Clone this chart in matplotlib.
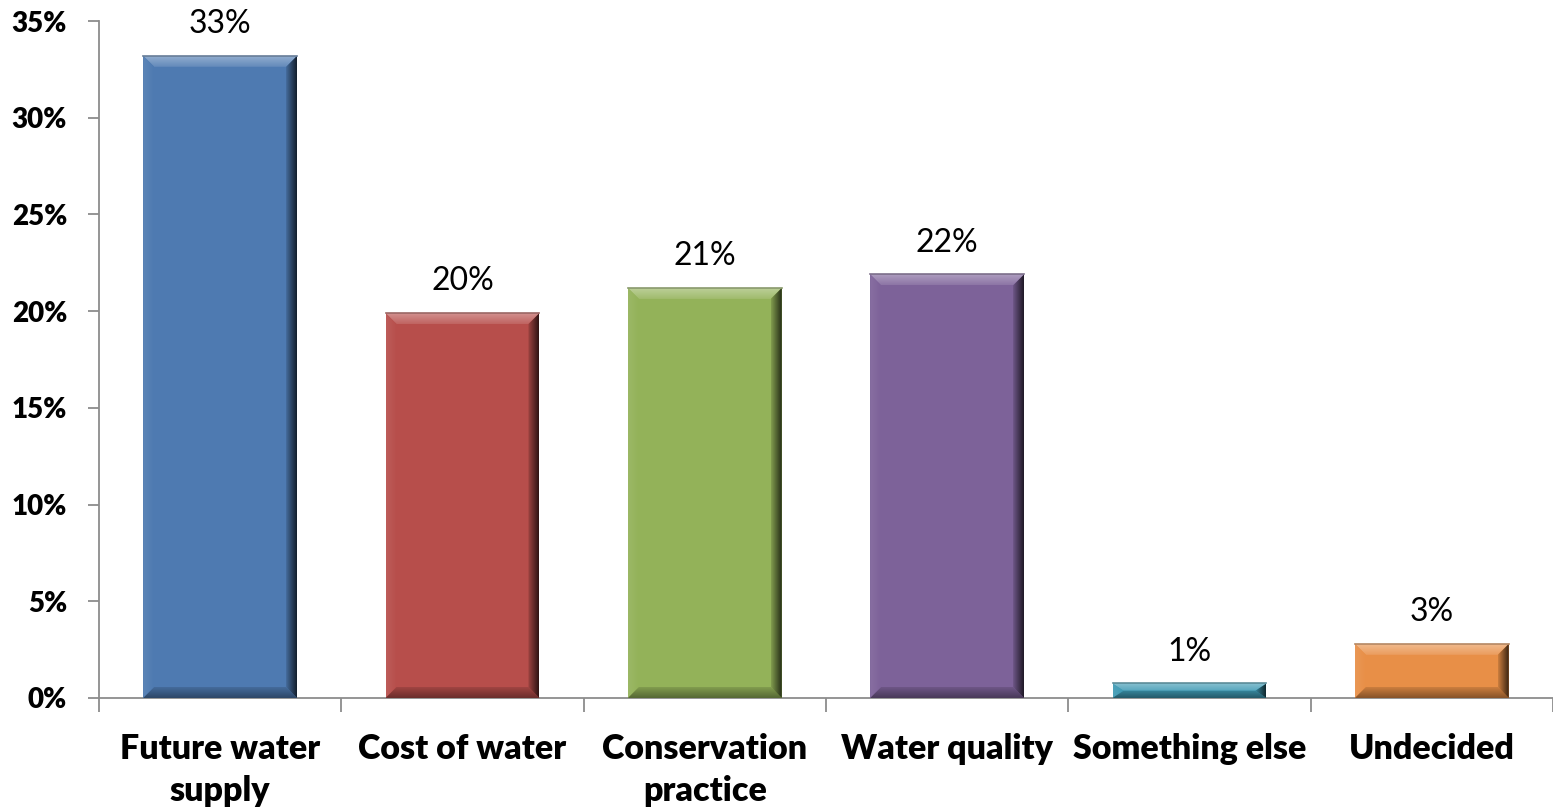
import numpy as np
import matplotlib
matplotlib.use('Agg')
import matplotlib.pyplot as plt
from matplotlib.patches import Polygon
from matplotlib.colors import to_rgb

plt.rcParams['font.family'] = ['Lato', 'DejaVu Sans']

categories = ['Future water\nsupply', 'Cost of water', 'Conservation\npractice',
              'Water quality', 'Something else', 'Undecided']
values = [33.2, 19.9, 21.2, 21.9, 0.75, 2.8]
colors = ['#4e7ab1', '#b74e4b', '#93b259', '#7d6299', '#3f9ab4', '#e88f47']
yticks = [0, 5, 10, 15, 20, 25, 30, 35]

W, H, DPI = 1553, 811, 100
fig = plt.figure(figsize=(W / DPI, H / DPI), dpi=DPI)
ax = fig.add_axes([99 / W, 113 / H, 1 - 99 / W, (698 - 21) / H])

x = np.arange(len(categories))
bw = 0.635
bars = ax.bar(x, values, width=bw, color=colors, edgecolor='none', zorder=2)

ax.set_xlim(-0.5, len(categories) - 0.5)
ax.set_ylim(0, 35)

# bevel size in pixels -> data units
px_x = (len(categories)) / (W - 99)
px_y = 35 / (698 - 21)


def mix(c, other, t):
    c = np.array(to_rgb(c))
    return tuple(c * (1 - t) + np.array(other) * t)


def grad_fill(poly, c_start, c_end, horizontal, zorder=3):
    # fill a polygon with a linear gradient clipped to its outline
    pts = np.array(poly)
    x0, x1 = pts[:, 0].min(), pts[:, 0].max()
    y0, y1 = pts[:, 1].min(), pts[:, 1].max()
    t = np.linspace(0, 1, 64)
    a = np.array(c_start)
    b = np.array(c_end)
    row = a[None, :] * (1 - t[:, None]) + b[None, :] * t[:, None]
    if horizontal:
        img = row[None, :, :]
    else:
        img = row[::-1][:, None, :]
    patch = Polygon(poly, closed=True, facecolor='none', edgecolor='none')
    ax.add_patch(patch)
    im = ax.imshow(img, extent=(x0, x1, y0, y1), aspect='auto',
                   interpolation='bilinear', zorder=zorder)
    im.set_clip_path(patch)


for rect, c in zip(bars, colors):
    x0 = rect.get_x()
    x1 = x0 + rect.get_width()
    h = rect.get_height()
    bx = 11 * px_x
    by = min(11 * px_y, h / 2)
    top = [(x0, h), (x1, h), (x1 - bx, h - by), (x0 + bx, h - by)]
    bottom = [(x0, 0), (x1, 0), (x1 - bx, by), (x0 + bx, by)]
    left = [(x0, 0), (x0, h), (x0 + bx, h - by), (x0 + bx, by)]
    right = [(x1, 0), (x1, h), (x1 - bx, h - by), (x1 - bx, by)]
    # top band: bright towards the inner edge
    grad_fill(top, mix(c, (1, 1, 1), 0.12), mix(c, (1, 1, 1), 0.38), horizontal=False)
    grad_fill(left, mix(c, (1, 1, 1), 0.08), mix(c, (1, 1, 1), 0.0), horizontal=True)
    grad_fill(bottom, mix(c, (0, 0, 0), 0.42), mix(c, (0, 0, 0), 0.12), horizontal=False)
    grad_fill(right, mix(c, (0, 0, 0), 0.12), mix(c, (0, 0, 0), 0.75), horizontal=True)
    ax.plot([x0, x1], [h, h], color=mix(c, (0.5, 0.5, 0.5), 0.5), lw=1.2, zorder=4)

for xi, v in zip(x, values):
    ax.annotate('%d%%' % round(v), (xi, v), xytext=(0, 12), textcoords='offset points',
                ha='center', va='bottom', fontsize=23, color='black', zorder=5)

# axes styling
for s in ['top', 'right']:
    ax.spines[s].set_visible(False)
for s in ['left', 'bottom']:
    ax.spines[s].set_color('#8c8c8c')
    ax.spines[s].set_linewidth(1.3)
    ax.spines[s].set_zorder(1)

ax.set_yticks(yticks)
ax.set_yticklabels(['%d%%' % t for t in yticks], fontsize=20, fontweight='heavy')
ax.tick_params(axis='y', length=8, width=1.3, color='#8c8c8c', pad=15)

ax.set_xticks(x)
ax.set_xticklabels(categories, fontsize=24.5, fontweight='heavy', linespacing=1.4)
ax.tick_params(axis='x', which='major', length=0, pad=25)
ax.set_xticks(np.arange(len(categories) + 1) - 0.5, minor=True)
ax.tick_params(axis='x', which='minor', length=10, width=1.3, color='#8c8c8c')

fig.savefig('out.png', dpi=DPI)
